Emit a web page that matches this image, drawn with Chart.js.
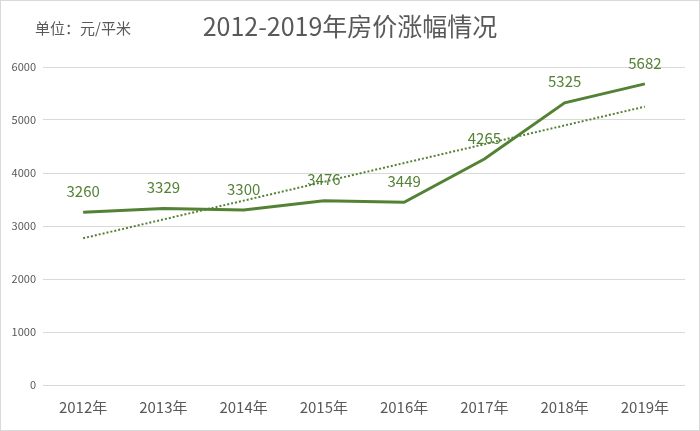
<!DOCTYPE html>
<html>
<head>
<meta charset="utf-8">
<script src="https://cdn.jsdelivr.net/npm/chart.js@4/dist/chart.umd.min.js"></script>
<style>
  body { margin: 0; background: #fff; }
  #wrap { width: 698px; height: 429px; border: 1px solid #d9d9d9; }
</style>
</head>
<body>
<div id="wrap"><canvas id="chart" width="698" height="429"></canvas></div>
<script>
const years = ['2012年', '2013年', '2014年', '2015年', '2016年', '2017年', '2018年', '2019年'];
const prices = [3260, 3329, 3300, 3476, 3449, 4265, 5325, 5682];
const yTicks = [0, 1000, 2000, 3000, 4000, 5000, 6000];
const titleText = '2012-2019年房价涨幅情况';
const unitText = '单位：元/平米';

const green = '#548235';
const grey = '#595959';
const fontFamily = '"Noto Sans CJK SC", "Liberation Sans", sans-serif';

// linear trendline (least squares over the series, like Excel)
function trend(values) {
    const n = values.length;
    const mx = (n - 1) / 2;
    const my = values.reduce((a, b) => a + b, 0) / n;
    let sxy = 0, sxx = 0;
    values.forEach((v, i) => { sxy += (i - mx) * (v - my); sxx += (i - mx) * (i - mx); });
    const slope = sxy / sxx;
    return values.map((v, i) => my + slope * (i - mx));
}

const headerPlugin = {
    id: 'header',
    afterDraw(chart) {
        const ctx = chart.ctx;
        ctx.save();
        ctx.fillStyle = grey;
        ctx.textBaseline = 'middle';
        ctx.font = '25px ' + fontFamily;
        ctx.textAlign = 'center';
        ctx.fillText(titleText, 349, 25);
        ctx.font = '15px ' + fontFamily;
        ctx.textAlign = 'left';
        ctx.fillText(unitText, 34, 27);
        ctx.restore();
    }
};

const labelPlugin = {
    id: 'pointLabels',
    afterDatasetsDraw(chart) {
        const ctx = chart.ctx;
        const meta = chart.getDatasetMeta(0);
        ctx.save();
        ctx.fillStyle = green;
        ctx.font = '15px ' + fontFamily;
        ctx.textAlign = 'center';
        ctx.textBaseline = 'middle';
        meta.data.forEach((pt, i) => {
            ctx.fillText(String(prices[i]), pt.x, pt.y - 21);
        });
        ctx.restore();
    }
};

const config = {
    type: 'line',
    data: {
        labels: years,
        datasets: [{
            label: '房价',
            data: prices,
            borderColor: green,
            borderWidth: 3,
            pointRadius: 0,
            tension: 0,
            fill: false,
            order: 1
        }, {
            label: '趋势',
            data: trend(prices),
            borderColor: green,
            borderWidth: 2,
            borderDash: [2, 2],
            pointRadius: 0,
            fill: false,
            order: 2
        }]
    },
    options: {
        responsive: false,
        animation: false,
        layout: { padding: { left: 0, right: 14, top: 66, bottom: 10 } },
        plugins: {
            legend: { display: false },
            tooltip: { enabled: false }
        },
        scales: {
            x: {
                offset: true,
                grid: { display: false, drawTicks: false },
                border: { display: false },
                ticks: { color: grey, padding: 13, font: { size: 15, family: fontFamily } },
                afterFit(s) { s.height = 35; }
            },
            y: {
                min: 0,
                max: 6000,
                afterBuildTicks(s) { s.ticks = yTicks.map(v => ({ value: v })); },
                grid: { color: '#d9d9d9', drawTicks: false },
                border: { display: false },
                ticks: {
                    color: grey,
                    padding: 7,
                    font: { size: 11, family: fontFamily },
                    callback: v => String(v)
                },
                afterFit(s) { s.width = 42; }
            }
        }
    },
    plugins: [headerPlugin, labelPlugin]
};

const chart = new Chart(document.querySelector('#chart').getContext('2d'), config);
</script>
</body>
</html>
